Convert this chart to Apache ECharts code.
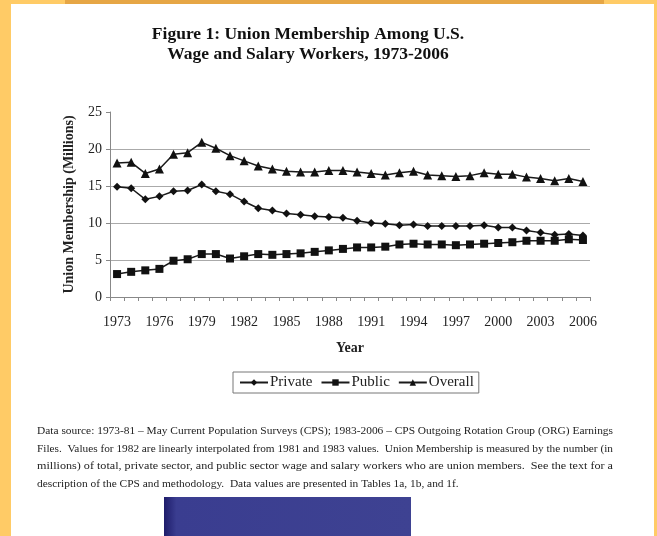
<!DOCTYPE html>
<html>
<head>
<meta charset="utf-8">
<script src="https://cdn.jsdelivr.net/npm/echarts@6/dist/echarts.min.js"></script>
<style>
html,body{margin:0;padding:0;background:#fff;}
#c{width:657px;height:536px;}
</style>
</head>
<body>
<div id="c"></div>
<script>
const years = [1973,1974,1975,1976,1977,1978,1979,1980,1981,1982,1983,1984,1985,1986,1987,1988,1989,1990,1991,1992,1993,1994,1995,1996,1997,1998,1999,2000,2001,2002,2003,2004,2005,2006];
const privateVals = [14.9,14.7,13.2,13.6,14.3,14.4,15.2,14.3,13.9,12.9,12.0,11.7,11.3,11.1,10.9,10.8,10.7,10.3,10.0,9.9,9.7,9.8,9.6,9.6,9.6,9.6,9.7,9.4,9.4,9.0,8.7,8.4,8.5,8.3];
const publicVals = [3.1,3.4,3.6,3.8,4.9,5.1,5.8,5.8,5.2,5.5,5.8,5.7,5.8,5.9,6.1,6.3,6.5,6.7,6.7,6.8,7.1,7.2,7.1,7.1,7.0,7.1,7.2,7.3,7.4,7.6,7.6,7.6,7.8,7.7];
const overallVals = [18.1,18.2,16.7,17.3,19.3,19.5,20.9,20.1,19.1,18.4,17.7,17.3,17.0,16.9,16.9,17.1,17.1,16.9,16.7,16.5,16.8,17.0,16.5,16.4,16.3,16.4,16.8,16.6,16.6,16.2,16.0,15.7,16.0,15.6];
const yTicks = [0,5,10,15,20,25];
const titleLines = ['Figure 1: Union Membership Among U.S.', 'Wage and Salary Workers, 1973-2006'];
const footLines = [
  'Data source: 1973-81 \u2013 May Current Population Surveys (CPS); 1983-2006 \u2013 CPS Outgoing Rotation Group (ORG) Earnings',
  'Files.  Values for 1982 are linearly interpolated from 1981 and 1983 values.  Union Membership is measured by the number (in',
  'millions) of total, private sector, and public sector wage and salary workers who are union members.  See the text for a',
  'description of the CPS and methodology.  Data values are presented in Tables 1a, 1b, and 1f.'
];

const FONT = '"Liberation Serif","Times New Roman",serif';
const footFont = '11.4px ' + FONT;
const cv = document.createElement('canvas').getContext('2d');
cv.font = footFont;
const footEls = footLines.map((t, i) => {
  const w = cv.measureText(t).width;
  const sx = i < 3 ? 576 / w : 1;
  return {
    type: 'text', left: 37, top: 426 + i * 17.4, scaleX: sx,
    style: { text: t, font: footFont, fill: '#222' }
  };
});

const chart = echarts.init(document.getElementById('c'), null, { renderer: 'canvas' });
const lineStyle = { color: '#1a1a1a', width: 1.5 };
chart.setOption({
  backgroundColor: '#fff',
  animation: false,
  grid: { left: 110, right: 67, top: 112, bottom: 239, containLabel: false },
  legend: {
    data: ['Private', 'Public', 'Overall'],
    left: 233, top: 372,
    itemWidth: 28, itemHeight: 8, itemGap: 8,
    borderColor: '#777', borderWidth: 1,
    padding: [3, 5, 3, 6],
    textStyle: { fontFamily: FONT, fontSize: 15, color: '#222', padding: [0, 0, 0, -3] }
  },
  xAxis: {
    type: 'category',
    data: years,
    boundaryGap: true,
    name: 'Year',
    nameLocation: 'middle',
    nameGap: 44,
    nameTextStyle: { fontFamily: FONT, fontWeight: 'bold', fontSize: 14, color: '#222' },
    axisLine: { lineStyle: { color: '#888', width: 1 } },
    axisTick: { show: true, interval: 0, length: 4, lineStyle: { color: '#888' } },
    axisLabel: { interval: 2, margin: 18, fontFamily: FONT, fontSize: 14, color: '#222' },
    splitLine: { show: false }
  },
  yAxis: {
    type: 'value',
    min: 0, max: 25, interval: 5,
    name: 'Union Membership (Millions)',
    nameLocation: 'middle',
    nameGap: 34,
    nameTextStyle: { fontFamily: FONT, fontWeight: 'bold', fontSize: 14, color: '#222' },
    axisLine: { show: true, lineStyle: { color: '#888', width: 1 } },
    axisTick: { show: true, length: 4, lineStyle: { color: '#888' } },
    axisLabel: { margin: 8, fontFamily: FONT, fontSize: 14, color: '#222',
      formatter: v => yTicks.includes(v) ? String(v) : '' },
    splitLine: { show: true, lineStyle: { color: ['rgba(0,0,0,0)', '#aaa', '#aaa', '#aaa', '#aaa', 'rgba(0,0,0,0)'], width: 1.2 } }
  },
  series: [
    { name: 'Private', type: 'line', data: privateVals, symbol: 'diamond', symbolSize: 8,
      lineStyle: lineStyle, itemStyle: { color: '#111' } },
    { name: 'Public', type: 'line', data: publicVals, symbol: 'rect', symbolSize: 8,
      lineStyle: lineStyle, itemStyle: { color: '#111' } },
    { name: 'Overall', type: 'line', data: overallVals, symbol: 'triangle', symbolSize: 9,
      lineStyle: lineStyle, itemStyle: { color: '#111' } }
  ],
  graphic: [
    { type: 'rect', left: 0, top: 0, shape: { width: 11, height: 536 }, style: { fill: '#ffcb66' }, silent: true },
    { type: 'rect', left: 11, top: 0, shape: { width: 54, height: 4 }, style: { fill: '#ffcb66' }, silent: true },
    { type: 'rect', left: 65, top: 0, shape: { width: 539, height: 4 }, style: { fill: '#e6a645' }, silent: true },
    { type: 'rect', left: 604, top: 0, shape: { width: 53, height: 4 }, style: { fill: '#ffcb66' }, silent: true },
    { type: 'rect', left: 654, top: 0, shape: { width: 3, height: 536 }, style: { fill: '#ffcb66' }, silent: true },
    { type: 'rect', left: 164, top: 497, shape: { width: 247, height: 39 },
      style: { fill: new echarts.graphic.LinearGradient(0, 0, 1, 0, [
        { offset: 0, color: '#1e1c6a' }, { offset: 0.05, color: '#3a3d90' }, { offset: 1, color: '#3e4292' }]) }, silent: true },
    { type: 'text', x: 308, y: 25, style: { text: titleLines[0], font: 'bold 17.5px ' + FONT, fill: '#111', align: 'center' } },
    { type: 'text', x: 308, y: 45, style: { text: titleLines[1], font: 'bold 17.5px ' + FONT, fill: '#111', align: 'center' } },
    ...footEls
  ]
});
</script>
</body>
</html>
